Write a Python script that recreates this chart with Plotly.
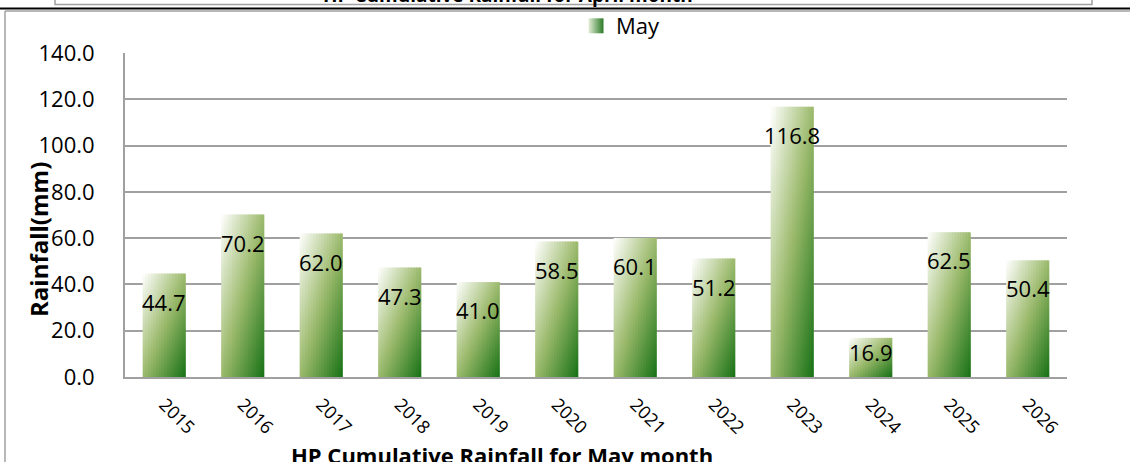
import plotly.graph_objects as go

years = ['2015', '2016', '2017', '2018', '2019', '2020', '2021', '2022', '2023', '2024', '2025', '2026']
rain = [44.7, 70.2, 62.0, 47.3, 41.0, 58.5, 60.1, 51.2, 116.8, 16.9, 62.5, 50.4]
y_ticks = [0, 20, 40, 60, 80, 100, 120, 140]
series_name = 'May'
title_bottom = 'HP Cumulative Rainfall for May month'
title_top = 'HP Cumulative Rainfall for April month'
y_title = 'Rainfall(mm)'

W, H = 1130, 462
L, R, T, B = 125, 63, 53, 85
PW, PH = W - L - R, H - T - B
YMAX = 140
BAR_W = 0.55
NS = 16

grad_stops = [(0.0, (255, 255, 255)), (0.5, (156, 186, 107)), (1.0, (22, 113, 21))]


def gcol(t):
    t = max(0.0, min(1.0, t))
    for (a, ca), (b, cb) in zip(grad_stops[:-1], grad_stops[1:]):
        if t <= b:
            f = (t - a) / (b - a)
            c = [round(ca[i] + (cb[i] - ca[i]) * f) for i in range(3)]
            return 'rgb(%d,%d,%d)' % tuple(c)
    return 'rgb(%d,%d,%d)' % grad_stops[-1][1]


def px2x(px):
    return (px - L) / PW


def py2y(py):
    return (H - B - py) / PH


fig = go.Figure()

for i, v in enumerate(rain):
    bx0 = i - BAR_W / 2
    bx1 = i + BAR_W / 2
    sw = BAR_W / NS
    for k in range(NS):
        x0 = bx0 + k * sw
        x1 = min(bx0 + (k + 1.5) * sw, bx1)
        um = (k + 0.5) / NS
        cs = [[p, gcol((um + 1 - p) / 2)] for p in (0, 0.25, 0.5, 0.75, 1)]
        fig.add_trace(go.Scatter(
            x=[x0, x1, x1, x0, x0], y=[0, 0, v, v, 0],
            fill='toself', mode='none',
            fillgradient=dict(type='vertical', colorscale=cs),
            showlegend=False, hoverinfo='skip'))

# legend entry
fig.add_trace(go.Scatter(
    x=[None], y=[None], mode='markers', name=series_name,
    marker=dict(symbol='square', size=15, color='#e6eed8',
                gradient=dict(type='horizontal', color='#2a7a26'))))

# data labels
for i, v in enumerate(rain):
    hpx = v * PH / YMAX
    shift = -min(28, hpx - 25)
    fig.add_annotation(x=i, y=v, text='%.1f' % v, showarrow=False,
                       yanchor='middle', xanchor='center', yshift=shift,
                       font=dict(family='Open Sans', size=22, color='#000000'))

# titles
fig.add_annotation(xref='paper', yref='paper', x=px2x(502), y=py2y(455),
                   text='<b>%s</b>' % title_bottom, showarrow=False,
                   xanchor='center', yanchor='middle',
                   font=dict(family='Open Sans', size=22, color='#000000'))
fig.add_annotation(xref='paper', yref='paper', x=px2x(508), y=py2y(-5),
                   text='<b>%s</b>' % title_top, showarrow=False,
                   xanchor='center', yanchor='middle',
                   font=dict(family='Open Sans', size=19, color='#000000'))
fig.add_annotation(xref='paper', yref='paper', x=px2x(38), y=py2y(240),
                   text='<b>%s</b>' % y_title, showarrow=False, textangle=-90,
                   xanchor='center', yanchor='middle',
                   font=dict(family='Open Sans', size=24, color='#000000'))

gray = '#a0a0a0'
shapes = [
    dict(type='rect', xref='paper', yref='paper', x0=px2x(55), x1=px2x(1092),
         y0=py2y(4.5), y1=py2y(-20), line=dict(color=gray, width=1.5)),
    dict(type='line', xref='paper', yref='paper', x0=px2x(-5), x1=px2x(1135),
         y0=py2y(8.5), y1=py2y(8.5), line=dict(color='#000000', width=2)),
    dict(type='line', xref='paper', yref='paper', x0=px2x(5), x1=px2x(1135),
         y0=py2y(11), y1=py2y(11), line=dict(color=gray, width=1.5)),
    dict(type='line', xref='paper', yref='paper', x0=px2x(5), x1=px2x(5),
         y0=py2y(11), y1=py2y(470), line=dict(color=gray, width=1.5)),
]

fig.update_layout(
    width=W, height=H,
    margin=dict(l=L, r=R, t=T, b=B, autoexpand=False),
    paper_bgcolor='white', plot_bgcolor='white',
    shapes=shapes,
    showlegend=True,
    legend=dict(xref='container', yref='container', x=621 / W, y=1 - 26 / H,
                xanchor='center', yanchor='middle',
                orientation='h', font=dict(family='Open Sans', size=22, color='#000000'),
                bgcolor='rgba(0,0,0,0)'),
    xaxis=dict(range=[-0.5, len(years) - 0.5], tickmode='array',
               tickvals=list(range(len(years))), ticktext=years,
               tickangle=45, showgrid=False, zeroline=False,
               showline=True, linecolor=gray, linewidth=2, automargin=False,
               ticklabelstandoff=8,
               tickfont=dict(family='Open Sans', size=18, color='#000000'),
               fixedrange=True),
    yaxis=dict(range=[0, YMAX], tickmode='array', tickvals=y_ticks,
               ticktext=['%.1f' % t for t in y_ticks],
               showgrid=True, gridcolor=gray, gridwidth=2,
               zeroline=False, showline=True, linecolor=gray, linewidth=2,
               ticks='', ticklabelstandoff=24, automargin=False,
               tickfont=dict(family='Open Sans', size=22, color='#000000'),
               fixedrange=True),
)

fig.write_html('out.html', config={'displayModeBar': False},
               post_script="document.body.style.margin='0';document.body.style.padding='0';")
